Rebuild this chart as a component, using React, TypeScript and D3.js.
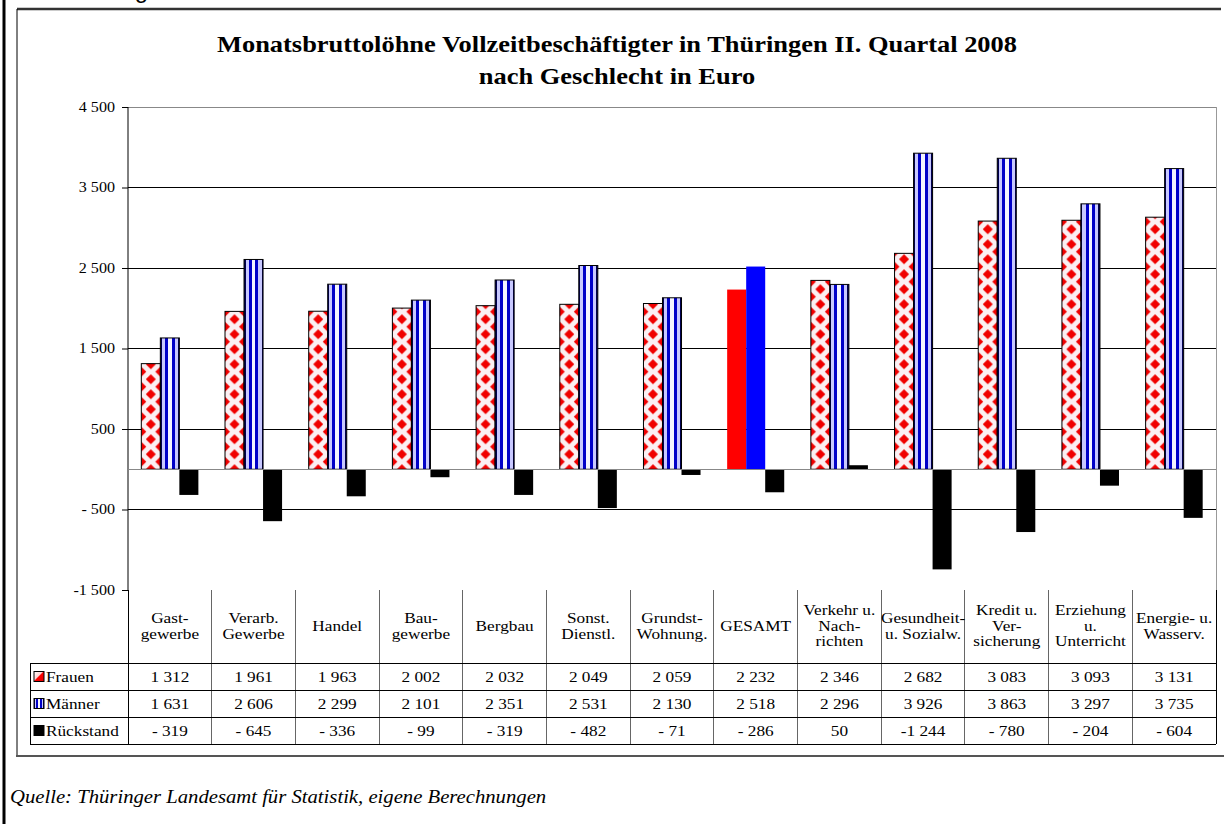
import * as d3 from "d3";
import { useEffect, useRef } from "react";

// categories as printed in the table header (| = line break)
const categories = [
  "Gast-|gewerbe",
  "Verarb.|Gewerbe",
  "Handel",
  "Bau-|gewerbe",
  "Bergbau",
  "Sonst.|Dienstl.",
  "Grundst-|Wohnung.",
  "GESAMT",
  "Verkehr u.|Nach-|richten",
  "Gesundheit-|u. Sozialw.",
  "Kredit u.|Ver-|sicherung",
  "Erziehung|u.|Unterricht",
  "Energie- u.|Wasserv.",
];
const frauen = [1312, 1961, 1963, 2002, 2032, 2049, 2059, 2232, 2346, 2682, 3083, 3093, 3131];
const maenner = [1631, 2606, 2299, 2101, 2351, 2531, 2130, 2518, 2296, 3926, 3863, 3297, 3735];
const rueckstand = [-319, -645, -336, -99, -319, -482, -71, -286, 50, -1244, -780, -204, -604];
const seriesNames = ["Frauen", "Männer", "Rückstand"];
const yTicks = [4500, 3500, 2500, 1500, 500, -500, -1500];
const yTickLabels = ["4 500", "3 500", "2 500", "1 500", "500", "- 500", "-1 500"];
const highlight = "GESAMT";

const title1 = "Monatsbruttolöhne Vollzeitbeschäftigter in Thüringen II. Quartal 2008";
const title2 = "nach Geschlecht in Euro";
const source = "Quelle: Thüringer Landesamt für Statistik, eigene Berechnungen";

const serif = "'Liberation Serif', 'Times New Roman', serif";
const stretch = 1.15; // the original's type is set a bit wide

// "1 312", "- 319", "-1 244"
const fmt = (v) => {
  const s = d3.format(",")(Math.abs(v)).replace(/,/g, " ");
  if (v >= 0) return s;
  return Math.abs(v) >= 1000 ? "-" + s : "- " + s;
};

const addText = (parent, x, y, str, size, anchor = "start") =>
  parent
    .append("text")
    .attr("transform", `translate(${x},${y}) scale(${stretch},1)`)
    .attr("text-anchor", anchor)
    .attr("font-family", serif)
    .attr("font-size", size)
    .attr("fill", "#000")
    .text(str);

const App = () => {
  const svgRef = useRef();

  const renderSVG = () => {
    const dims = {
      width: 1224,
      height: 824,
      plotLeft: 128,
      plotRight: 1216,
      plotTop: 107,
      plotBottom: 590,
      legendLeft: 30,
      headerBottom: 663,
      rowHeight: 27,
    };

    svgRef.current.innerHTML = "";
    const svg = d3
      .select(svgRef.current)
      .attr("width", dims.width)
      .attr("height", dims.height)
      .attr("viewBox", [0, 0, dims.width, dims.height]);

    const yScale = d3.scaleLinear([-1500, 4500], [dims.plotBottom, dims.plotTop]);
    const xScale = d3.scaleBand(categories, [dims.plotLeft, dims.plotRight]);
    const sub = d3.scaleBand(seriesNames, [0, xScale.bandwidth()]).paddingOuter(0.7);
    const y0 = yScale(0);

    // defs: patterns
    const defs = svg.append("defs");
    const bw = sub.bandwidth();
    const pat = defs
      .append("pattern")
      .attr("id", "diamonds")
      .attr("patternUnits", "userSpaceOnUse")
      .attr("x", 0)
      .attr("y", y0)
      .attr("width", bw)
      .attr("height", 15);
    pat.append("rect").attr("width", bw).attr("height", 15).attr("fill", "#fbf0f3");
    const diamond = (cx, cy) =>
      `M${cx},${cy - 5}L${cx + 5},${cy}L${cx},${cy + 5}L${cx - 5},${cy}Z`;
    pat
      .append("path")
      .attr(
        "d",
        [diamond(bw / 2, 0), diamond(bw / 2, 15), diamond(0, 7.5), diamond(bw, 7.5)].join("")
      )
      .attr("fill", "#f00000");

    const stripes = defs.append("linearGradient").attr("id", "stripes");
    [
      [0, "#000050"], [0.08, "#000050"], [0.08, "#c8c8ff"], [0.24, "#c8c8ff"],
      [0.24, "#0000c8"], [0.4, "#0000c8"], [0.4, "#f4f4ff"], [0.6, "#f4f4ff"],
      [0.6, "#0000c8"], [0.76, "#0000c8"], [0.76, "#c8c8ff"], [0.92, "#c8c8ff"],
      [0.92, "#000050"], [1, "#000050"],
    ].forEach(([o, c]) => stripes.append("stop").attr("offset", o).attr("stop-color", c));

    const keyF = defs
      .append("linearGradient")
      .attr("id", "keyF")
      .attr("x1", 0).attr("y1", 0).attr("x2", 1).attr("y2", 1);
    [[0, "#ffffff"], [0.45, "#ffd0d0"], [0.5, "#ff0000"], [1, "#e00000"]].forEach(([o, c]) =>
      keyF.append("stop").attr("offset", o).attr("stop-color", c)
    );

    // frame
    svg.append("line").attr("x1", 4).attr("x2", 4).attr("y1", 0).attr("y2", dims.height)
      .attr("stroke", "#000").attr("stroke-width", 3);
    svg.append("line").attr("x1", 17).attr("x2", 1221).attr("y1", 9).attr("y2", 9)
      .attr("stroke", "#333").attr("stroke-width", 2.5);
    svg.append("line").attr("x1", 17).attr("x2", 17).attr("y1", 9).attr("y2", 756)
      .attr("stroke", "#000").attr("stroke-width", 1);
    svg.append("line").attr("x1", 16).attr("x2", dims.width).attr("y1", 756).attr("y2", 756)
      .attr("stroke", "#555").attr("stroke-width", 2);

    svg.append("text").attr("x", 148).attr("y", -2).attr("text-anchor", "end")
      .attr("font-family", "'Liberation Sans', Arial, sans-serif").attr("font-size", 24)
      .text("Abbildung");

    // title
    const cx = (dims.plotLeft + dims.plotRight) / 2 - 55;
    addText(svg, cx, 52, title1, 23, "middle").attr("font-weight", "bold");
    addText(svg, cx, 84, title2, 23, "middle").attr("font-weight", "bold");

    // grid
    svg.append("g")
      .selectAll("line")
      .data(yTicks.filter((t) => t !== -1500))
      .join("line")
      .attr("x1", dims.plotLeft).attr("x2", dims.plotRight)
      .attr("y1", (d) => yScale(d)).attr("y2", (d) => yScale(d))
      .attr("stroke", (d) => (d === 4500 ? "#888" : "#000"))
      .attr("stroke-width", 1)
      .attr("shape-rendering", "crispEdges");
    svg.append("line")
      .attr("x1", dims.plotRight).attr("x2", dims.plotRight)
      .attr("y1", dims.plotTop).attr("y2", dims.plotBottom)
      .attr("stroke", "#999").attr("shape-rendering", "crispEdges");

    // y axis
    svg.append("g")
      .attr("transform", `translate(${dims.plotLeft},0)`)
      .call(
        d3.axisLeft(yScale).tickValues(yTicks).tickSize(6).tickPadding(13)
          .tickFormat((d, i) => yTickLabels[i])
      )
      .call((g) => {
        g.select("path.domain").attr("stroke", "#000").attr("d", `M0,${dims.plotTop}V${dims.plotBottom}`);
        g.selectAll(".tick line").attr("stroke", "#000");
        g.selectAll(".tick text")
          .attr("x", 0)
          .attr("transform", `translate(-13,0) scale(${stretch},1)`)
          .attr("font-size", 14)
          .attr("font-family", serif)
          .attr("fill", "#000");
      });

    // bars
    const groups = svg
      .append("g")
      .selectAll("g")
      .data(categories)
      .join("g")
      .attr("transform", (d) => `translate(${xScale(d)},0)`);

    groups.each(function (cat, i) {
      const g = d3.select(this);
      const isHi = cat === highlight;
      const vals = [frauen[i], maenner[i], rueckstand[i]];
      vals.forEach((v, k) => {
        const name = seriesNames[k];
        const fill =
          k === 2 ? "#000" : isHi ? (k === 0 ? "#ff0000" : "#0000ff") : k === 0 ? "url(#diamonds)" : "url(#stripes)";
        g.append("g")
          .attr("transform", `translate(${sub(name)},0)`)
          .append("rect")
          .attr("x", 0)
          .attr("y", Math.min(yScale(v), y0))
          .attr("width", bw)
          .attr("height", Math.abs(yScale(v) - y0))
          .attr("fill", fill)
          .attr("stroke", k === 2 || isHi ? "none" : "#000")
          .attr("stroke-width", 1);
      });
    });

    // zero line
    svg.append("line")
      .attr("x1", dims.plotLeft).attr("x2", dims.plotRight)
      .attr("y1", y0).attr("y2", y0)
      .attr("stroke", "#888").attr("shape-rendering", "crispEdges");

    // data table
    const table = svg.append("g");
    const grid = table.append("g").attr("shape-rendering", "crispEdges");
    const tableBottom = dims.headerBottom + dims.rowHeight * 3;
    const bounds = categories.map((c) => xScale(c)).concat([dims.plotRight]);
    grid.selectAll("line.col")
      .data(bounds)
      .join("line")
      .attr("class", "col")
      .attr("x1", (d) => d).attr("x2", (d) => d)
      .attr("y1", dims.plotBottom).attr("y2", tableBottom)
      .attr("stroke", (d, i) => (i === 0 || i === bounds.length - 1 ? "#000" : "#666"));
    grid.append("line")
      .attr("x1", dims.legendLeft).attr("x2", dims.legendLeft)
      .attr("y1", dims.headerBottom).attr("y2", tableBottom).attr("stroke", "#000");
    grid.selectAll("line.row")
      .data([0, 1, 2, 3])
      .join("line")
      .attr("class", "row")
      .attr("x1", dims.legendLeft).attr("x2", dims.plotRight)
      .attr("y1", (d) => dims.headerBottom + d * dims.rowHeight)
      .attr("y2", (d) => dims.headerBottom + d * dims.rowHeight)
      .attr("stroke", "#000");

    // header text
    const headerMid = (dims.plotBottom + dims.headerBottom) / 2 - 1;
    categories.forEach((c) => {
      const lines = c.split("|");
      const t = addText(table, xScale(c) + xScale.bandwidth() / 2, headerMid + 5, null, 15, "middle");
      lines.forEach((l, j) => {
        t.append("tspan")
          .attr("x", 0)
          .attr("y", (j - (lines.length - 1) / 2) * 16)
          .text(l);
      });
    });

    // rows
    const rows = [frauen, maenner, rueckstand];
    const keyFills = ["url(#keyF)", "url(#stripes)", "#000"];
    rows.forEach((row, r) => {
      const yMid = dims.headerBottom + r * dims.rowHeight + dims.rowHeight / 2;
      table.append("rect")
        .attr("x", 34).attr("y", yMid - 5).attr("width", 10).attr("height", 10)
        .attr("fill", keyFills[r]).attr("stroke", "#000").attr("stroke-width", 1);
      addText(table, 46, yMid + 5, seriesNames[r], 15);
      row.forEach((v, i) => {
        addText(table, xScale(categories[i]) + xScale.bandwidth() / 2, yMid + 5, fmt(v), 15, "middle");
      });
    });

    // source
    addText(svg, 10, 803, source, 18).attr("font-style", "italic");
  };

  useEffect(() => {
    renderSVG();
  });

  return (
    <svg
      ref={svgRef}
      style={{ position: "absolute", left: 0, top: 0, background: "#fff" }}
    />
  );
};

export default App;
